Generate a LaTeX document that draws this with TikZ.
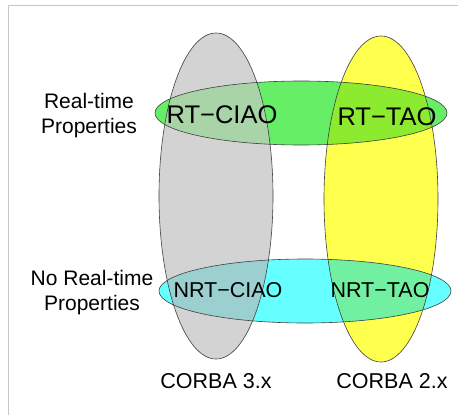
\documentclass[tikz,border=0pt]{standalone}
\usepackage{fontspec}
\setmainfont{Liberation Sans}
\usetikzlibrary{shapes.geometric,positioning}

\definecolor{corbagray}{HTML}{D3D3D3}
\definecolor{corbayellow}{HTML}{FFFF4D}
\definecolor{rtgreen}{HTML}{66EE66}
\definecolor{nrtcyan}{HTML}{66FFFF}
\definecolor{graygreen}{HTML}{A8D4A8}
\definecolor{yellowgreen}{HTML}{8CEB2E}
\definecolor{graycyan}{HTML}{9CCFCF}
\definecolor{yellowcyan}{HTML}{70F0A0}

\begin{document}
\begin{tikzpicture}[%
    x=1pt,
    y=-1pt,
    set/.style={ellipse, inner sep=0pt},
    column/.style={set, minimum width=114pt, minimum height=326pt},
    row/.style={set, minimum width=292pt, minimum height=64pt},
    rim/.style={draw=black!75, line width=0.6pt},
    big/.style={font=\fontsize{25.5}{30}\selectfont},
    mid/.style={font=\fontsize{21.5}{26}\selectfont},
    side/.style={font=\fontsize{21}{25}\selectfont, align=center}
    ]

    \useasboundingbox (0,0) rectangle (458,415);
    \draw[black!22, line width=0.8pt] (458,5) -- (8,5) -- (8,415);

    % CORBA versions
    \node[column, fill=corbagray]   (corba3) at (216,196) {};
    \node[column, fill=corbayellow] (corba2) at (381,199) {};

    % real-time / non real-time rows
    \node[row, fill=rtgreen] (rt)  at (301,113) {};
    \node[row, fill=nrtcyan] (nrt) at (305,291) {};

    % the four overlaps
    \begin{scope}
        \clip (corba3.center) ellipse [x radius=57pt, y radius=163pt];
        \fill[graygreen] (rt.center) ellipse [x radius=146pt, y radius=32pt];
        \fill[graycyan] (nrt.center) ellipse [x radius=146pt, y radius=32pt];
    \end{scope}
    \begin{scope}
        \clip (corba2.center) ellipse [x radius=57pt, y radius=163pt];
        \fill[yellowgreen] (rt.center) ellipse [x radius=146pt, y radius=32pt];
        \fill[yellowcyan] (nrt.center) ellipse [x radius=146pt, y radius=32pt];
    \end{scope}

    % outlines on top of every fill
    \draw[rim] (corba3.center) ellipse [x radius=57pt, y radius=163pt];
    \draw[rim] (corba2.center) ellipse [x radius=57pt, y radius=163pt];
    \draw[rim] (rt.center) ellipse [x radius=146pt, y radius=32pt];
    \draw[rim] (nrt.center) ellipse [x radius=146pt, y radius=32pt];

    \node[big] (rtciao)  at (222,115) {RT−CIAO};
    \node[big] (rttao)   at (387,117) {RT−TAO};
    \node[mid] (nrtciao) at (228,290) {NRT−CIAO};
    \node[mid] (nrttao)  at (380,290) {NRT−TAO};

    \node[side] (rtprop)  at (89,116)  {Real-time\\Properties};
    \node[side] (nrtprop) at (92,293) {No Real-time\\Properties};

    \node[mid] (v3) at (216,381) {CORBA 3.x};
    \node[mid] (v2) at (392,381) {CORBA 2.x};

\end{tikzpicture}
\end{document}
